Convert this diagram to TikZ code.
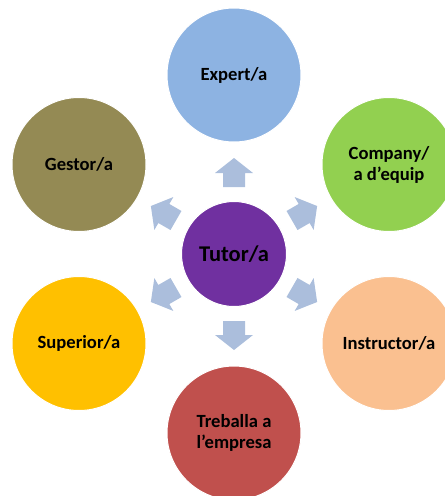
\documentclass[tikz,border=0pt]{standalone}
\usepackage{fontspec}
\setmainfont{Carlito}
\usetikzlibrary{calc}
\begin{document}
\begin{tikzpicture}[x=1pt,y=-1pt,
  bubble/.style={circle,draw=white,line width=1pt,minimum size=134pt,inner sep=0pt,
    align=center,font=\bfseries\fontsize{18.6}{21}\selectfont,text=black},
  blockarrow/.style={fill=arrowblue,draw=none}]
\definecolor{arrowblue}{HTML}{ABBEDC}
\definecolor{cexpert}{HTML}{8DB3E2}
\definecolor{ccompany}{HTML}{92D050}
\definecolor{cinstr}{HTML}{FAC090}
\definecolor{ctreb}{HTML}{C0504D}
\definecolor{csup}{HTML}{FFC000}
\definecolor{cgest}{HTML}{948A54}
\definecolor{ctutor}{HTML}{7030A0}
\useasboundingbox (0,0) rectangle (445,496);
\coordinate (c) at (234,254);
\node[bubble,fill=ctutor,minimum size=105pt,font=\bfseries\fontsize{22.5}{26}\selectfont] (tutor) at (c) {Tutor/a};
\node[bubble,fill=cexpert] (expert) at ($(c)+(0,-179)$) {Expert/a};
\node[bubble,fill=ccompany] (company) at ($(c)+(155,-89.5)$) {Company/\\a d’equip};
\node[bubble,fill=cinstr] (instr) at ($(c)+(155,89.5)$) {Instructor/a};
\node[bubble,fill=ctreb] (treb) at ($(c)+(0,179)$) {Treballa a\\l’empresa};
\node[bubble,fill=csup] (sup) at ($(c)+(-155,89.5)$) {Superior/a};
\node[bubble,fill=cgest] (gest) at ($(c)+(-155,-89.5)$) {Gestor/a};
\foreach \a in {-90,-30,30,90,150,210}{
  \fill[blockarrow,shift={(c)},rotate=\a]
    (67,-11) -- (81,-11) -- (81,-19) -- (96,0) -- (81,19) -- (81,11) -- (67,11) -- cycle;
}
\end{tikzpicture}
\end{document}
